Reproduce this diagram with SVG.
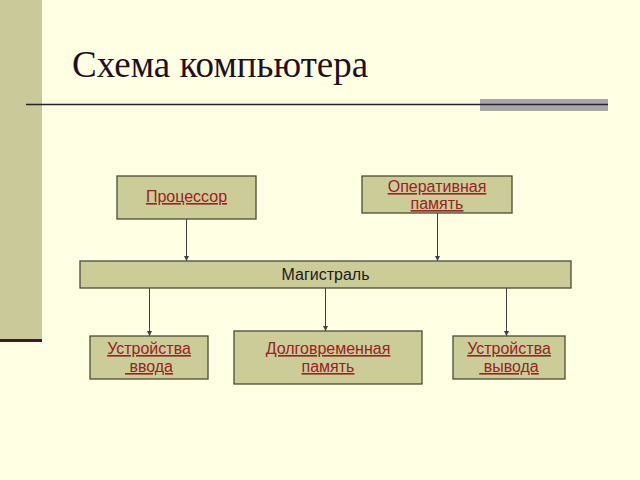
<svg xmlns="http://www.w3.org/2000/svg" width="640" height="480" viewBox="0 0 640 480">
<defs>
<style>
.title{font-family:"Liberation Serif","Times New Roman",serif;font-size:37px;fill:#1f0f1f}
.box{fill:#cccc99;stroke:#4a4a3a;stroke-width:1.3}
.lbl{font-family:"Liberation Sans",Arial,sans-serif;font-size:16px;fill:#992222;text-anchor:middle;text-decoration:underline;white-space:pre}
.bus{font-family:"Liberation Sans",Arial,sans-serif;font-size:16px;fill:#1a1a1a;text-anchor:middle}
.con{stroke:#404040;stroke-width:1;fill:none;marker-end:url(#ah)}
</style>
<marker id="ah" viewBox="0 0 6 6" refX="6" refY="3" markerWidth="5" markerHeight="5" orient="auto" markerUnits="userSpaceOnUse">
<path d="M0,0 L6,3 L0,6 z" fill="#404040"/>
</marker>
</defs>
<rect width="640" height="480" fill="#ffffe3"/>
<rect x="0" y="0" width="42" height="341" fill="#c9c99a"/>
<rect x="0" y="339" width="42" height="3" fill="#3a1a33"/>
<text class="title" x="72" y="77">Схема компьютера</text>
<rect x="480" y="99" width="128" height="12" fill="#a8a8a8"/>
<line x1="26" y1="104.5" x2="608" y2="104.5" stroke="#2a1f33" stroke-width="1.6"/>
<g id="connectors">
<line class="con" x1="186.5" y1="219" x2="186.5" y2="261"/>
<line class="con" x1="437.5" y1="213" x2="437.5" y2="261"/>
<line class="con" x1="149.5" y1="288" x2="149.5" y2="336"/>
<line class="con" x1="325.5" y1="288" x2="325.5" y2="331"/>
<line class="con" x1="506.5" y1="288" x2="506.5" y2="336"/>
</g>
<g id="cpu">
<rect class="box" x="117" y="176" width="139" height="43"/>
<text class="lbl" x="186.5" y="202">Процессор</text>
</g>
<g id="ram">
<rect class="box" x="362" y="176" width="150" height="37"/>
<text class="lbl" x="437" y="192">Оперативная</text>
<text class="lbl" x="437" y="209">память</text>
</g>
<g id="bus">
<rect class="box" x="80" y="261" width="491" height="27"/>
<text class="bus" x="325.5" y="279.5">Магистраль</text>
</g>
<g id="input">
<rect class="box" x="90" y="336" width="118" height="43"/>
<text class="lbl" x="149" y="354">Устройства</text>
<text class="lbl" x="149" y="372"> ввода</text>
</g>
<g id="storage">
<rect class="box" x="234" y="331" width="188" height="53"/>
<text class="lbl" x="328" y="354">Долговременная</text>
<text class="lbl" x="328" y="372">память</text>
</g>
<g id="output">
<rect class="box" x="453" y="336" width="112" height="43"/>
<text class="lbl" x="509" y="354">Устройства</text>
<text class="lbl" x="509" y="372"> вывода</text>
</g>
</svg>
